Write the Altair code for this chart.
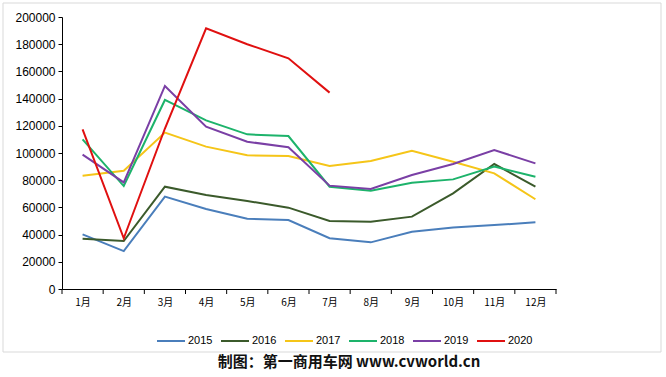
import altair as alt
import pandas as pd

months = list(range(1, 13))
years = ["2015", "2016", "2017", "2018", "2019", "2020"]
colors = ["#4A7EBB", "#3B5A2B", "#F5C518", "#1DB36B", "#7A3FA5", "#E01010"]
widths = [2, 2, 2, 2, 2, 4]

s2015 = [40200, 27900, 67900, 58800, 51700, 50700, 37300, 34300, 42100, 45300, 47000, 49000]
s2016 = [37000, 35300, 75200, 69100, 64700, 59800, 50000, 49500, 53200, 70300, 91900, 75200]
s2017 = [83300, 87000, 115000, 104700, 98300, 97800, 90400, 94100, 101700, 93600, 85000, 66000]
s2018 = [110000, 75700, 139000, 124000, 113700, 112500, 75200, 72300, 78200, 80600, 90000, 82600]
s2019 = [98800, 78400, 149300, 119400, 108300, 104200, 76000, 73500, 83800, 91900, 102200, 92400]
s2020 = [117400, 37300, 118000, 191700, 180000, 169600, 144400]

series = [s2015, s2016, s2017, s2018, s2019, s2020]
rows = []
for y, vals in zip(years, series):
    for m, v in zip(months, vals):
        rows.append({"month": m, "year": y, "value": v})
df = pd.DataFrame(rows)

W, H = 494, 272
xscale = alt.Scale(domain=[0.5, 12.5], nice=False, zero=False)
yscale = alt.Scale(domain=[0, 200000], nice=False)

leg = dict(orient="none", direction="horizontal", legendX=94, legendY=309,
           symbolType="stroke", symbolSize=784, columnPadding=4,
           labelFont="Liberation Sans", labelFontSize=11, labelColor="#000",
           labelOffset=2)

lines = alt.Chart(df).mark_line(strokeCap="butt", strokeJoin="miter").encode(
    x=alt.X("month:Q", scale=xscale,
            axis=alt.Axis(values=months, labelExpr="datum.value + '月'", ticks=False,
                          domainColor="#000", domainWidth=1, grid=False, title=None,
                          labelFont="Noto Sans CJK SC", labelFontSize=10, labelColor="#000",
                          labelPadding=8)),
    y=alt.Y("value:Q", scale=yscale,
            axis=alt.Axis(values=list(range(0, 200001, 20000)), format="d", grid=False, title=None,
                          domainColor="#000", tickColor="#000", tickSize=4,
                          labelFont="Liberation Sans", labelFontSize=12, labelColor="#000",
                          labelPadding=3)),
    color=alt.Color("year:N", scale=alt.Scale(domain=years, range=colors), title=None,
                    legend=alt.Legend(**leg)),
    strokeWidth=alt.StrokeWidth("year:N", scale=alt.Scale(domain=years, range=widths), title=None,
                                legend=alt.Legend(**leg)),
    detail="year:N",
)

tick_df = pd.DataFrame({"b": [i + 0.5 for i in range(0, 13)]})
ticks = alt.Chart(tick_df).mark_rule(color="#000", strokeWidth=1).encode(
    x=alt.X("b:Q", scale=xscale),
    y=alt.value(H),
    y2=alt.value(H + 5),
)

one = alt.Data(values=[{}])
border = alt.Chart(one).mark_rect(filled=False, stroke="#D9D9D9", strokeWidth=1).encode(
    x=alt.value(-59), x2=alt.value(599), y=alt.value(-14), y2=alt.value(335)
)
footer = alt.Chart(one).mark_text(
    text="制图：第一商用车网 www.cvworld.cn", font="Noto Sans CJK SC", fontWeight="bold",
    fontSize=15, color="#111", align="center", baseline="middle"
).encode(x=alt.value(287), y=alt.value(345))

chart = alt.layer(border, lines, ticks, footer).properties(
    width=W, height=H,
    autosize=alt.AutoSizeParams(type="none"),
    padding={"left": 62, "top": 17, "right": 110, "bottom": 88},
    background="white",
).configure_view(stroke=None)

chart.save("out.html", embed_options={"renderer": "svg", "actions": False})
